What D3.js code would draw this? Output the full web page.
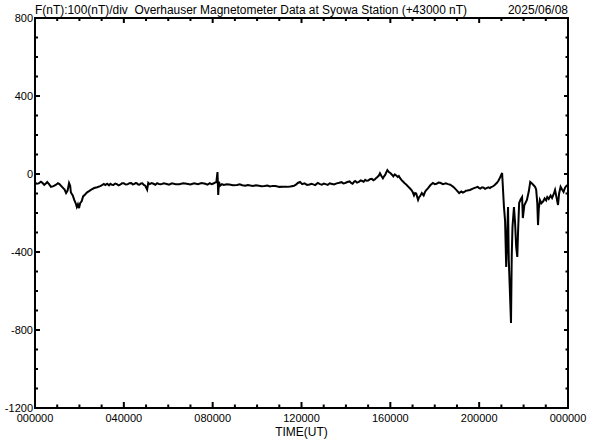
<!DOCTYPE html>
<html>
<head>
<meta charset="utf-8">
<script src="https://cdn.jsdelivr.net/npm/d3@7"></script>
<style>
  body { margin: 0; background: #fff; }
  svg { display: block; }
  text { font-family: "Liberation Sans", Arial, sans-serif; fill: #000; white-space: pre; }
</style>
</head>
<body>
<div id="chart"></div>
<script>
//Data: minute of day (UT) and F minus 43000 nT
var minutes = [0, 5, 10, 16, 20, 25, 30, 33, 38, 43, 50, 57, 62, 66, 73, 80, 84, 88, 92, 95,
  97, 102, 106, 110, 113, 116, 119, 122, 126, 130, 134, 140, 146, 152, 160, 168, 176, 180, 186, 190,
  195, 200, 204, 208, 212, 217, 221, 226, 230, 235, 240, 245, 250, 255, 260, 264, 268, 272, 275, 279,
  282, 286, 290, 294, 298, 303, 306, 310, 315, 320, 325, 330, 335, 340, 348, 356, 362, 370, 380, 390,
  400, 410, 420, 430, 440, 450, 460, 466, 472, 477, 482, 486, 490, 493, 495, 497, 500, 505, 510, 518,
  525, 535, 546, 553, 560, 568, 575, 582, 589, 597, 605, 612, 620, 628, 635, 642, 650, 660, 670, 681,
  690, 700, 705, 710, 716, 722, 728, 735, 742, 746, 750, 757, 764, 770, 775, 780, 785, 791, 796, 800,
  808, 815, 822, 828, 833, 838, 844, 850, 854, 858, 862, 865, 870, 875, 880, 884, 888, 892, 896, 900,
  905, 910, 914, 918, 922, 925, 929, 932, 936, 940, 943, 946, 949, 952, 956, 960, 965, 968, 972, 976,
  980, 983, 986, 989, 992, 995, 998, 1002, 1006, 1009, 1012, 1015, 1018, 1021, 1024, 1027, 1030, 1033, 1035, 1038,
  1040, 1045, 1050, 1053, 1056, 1062, 1068, 1075, 1080, 1085, 1090, 1095, 1102, 1110, 1116, 1122, 1126, 1130, 1135, 1140,
  1146, 1152, 1156, 1160, 1164, 1168, 1175, 1183, 1190, 1196, 1200, 1203, 1208, 1212, 1216, 1220, 1225, 1229, 1233, 1236,
  1242, 1248, 1252, 1256, 1262, 1267, 1270, 1273, 1276, 1278, 1280, 1283, 1286, 1288, 1290, 1294, 1297, 1300, 1303, 1305,
  1308, 1312, 1316, 1318, 1322, 1329, 1334, 1338, 1342, 1346, 1351, 1354, 1357, 1359, 1361, 1364, 1368, 1373, 1377, 1381,
  1384, 1388, 1393, 1397, 1402, 1405, 1408, 1413, 1416, 1420, 1424, 1428, 1432, 1436, 1440]
var fValues = [-45, -50, -48, -40, -45, -56, -48, -41, -52, -66, -62, -55, -47, -52, -66, -80, -98, -85, -46, -60,
  -95, -110, -133, -150, -169, -155, -175, -150, -140, -115, -108, -95, -88, -80, -72, -68, -62, -58, -51, -57,
  -50, -58, -50, -55, -56, -49, -52, -58, -55, -48, -48, -54, -53, -47, -46, -53, -52, -46, -47, -54,
  -55, -49, -48, -56, -60, -80, -45, -52, -47, -50, -55, -47, -52, -53, -48, -51, -55, -48, -53, -52,
  -47, -50, -54, -48, -52, -46, -50, -55, -47, -52, -49, -44, -42, 10, -108, -40, -60, -52, -56, -53,
  -54, -58, -56, -53, -58, -60, -56, -59, -61, -58, -60, -63, -62, -59, -64, -61, -62, -66, -65, -66,
  -64, -60, -55, -46, -41, -52, -48, -56, -54, -50, -52, -57, -46, -52, -55, -49, -52, -56, -48, -50,
  -54, -48, -45, -42, -48, -46, -41, -38, -46, -50, -40, -36, -44, -40, -33, -36, -40, -30, -35, -34,
  -27, -25, -32, -28, -20, -15, -8, 4, -10, -22, -12, -5, 8, 20, 10, 5, -5, -12, -2, -8,
  -15, -10, -20, -28, -35, -40, -46, -52, -60, -66, -72, -78, -85, -95, -110, -98, -100, -120, -133, -118,
  -115, -98, -110, -95, -85, -72, -58, -46, -52, -50, -44, -45, -52, -48, -52, -55, -60, -66, -75, -85,
  -98, -90, -95, -92, -86, -85, -82, -75, -70, -66, -72, -75, -68, -70, -76, -72, -68, -72, -66, -65,
  -56, -45, -35, -20, 5, -169, -240, -477, -300, -169, -441, -600, -764, -420, -272, -169, -250, -374, -425, -300,
  -149, -130, -118, -226, -160, -133, -90, -41, -48, -55, -66, -80, -149, -262, -180, -133, -150, -140, -125, -135,
  -118, -128, -110, -123, -100, -82, -110, -159, -100, -66, -80, -92, -70, -60, -56]

var yTicks = [800, 400, 0, -400, -800, -1200]
var xTicks = [0, 240, 480, 720, 960, 1200, 1440]
var xTickLabels = ["000000", "040000", "080000", "120000", "160000", "200000", "000000"]

var titleText = "F(nT):100(nT)/div  Overhauser Magnetometer Data at Syowa Station (+43000 nT)"
var dateText = "2025/06/08"
var xTitle = "TIME(UT)"

var data = minutes.map(function(m, i) { return {t: m, f: fValues[i]}; })

//Drawing area
var width = 592, height = 440,
    plotLeft = 35, plotRight = 568, plotTop = 18, plotBottom = 408;

var svg = d3.select('#chart').append('svg')
    .attr('width', width)
    .attr('height', height)

//Scales
var xScale = d3.scaleLinear()
    .domain([0, 1440])
    .range([plotLeft, plotRight]);
var yScale = d3.scaleLinear()
    .domain([-1200, 800])
    .range([plotBottom, plotTop]);

//Minor ticks every hour / every 100 nT, major at labels
var xMinor = d3.range(60, 1440, 60)
var yMinor = d3.range(-1100, 800, 100)

function isMajorX(m) { return m % 240 === 0; }
function isMajorY(v) { return v % 400 === 0; }

//bottom and top ticks, pointing into the plot
svg.append('g').selectAll('line').data(xMinor)
  .enter().append('line')
    .attr('x1', function(d) { return xScale(d); })
    .attr('x2', function(d) { return xScale(d); })
    .attr('y1', plotBottom)
    .attr('y2', function(d) { return plotBottom - (isMajorX(d) ? 6 : 3.5); })
    .style('stroke', '#000').style('stroke-width', 2)
svg.append('g').selectAll('line').data(xMinor)
  .enter().append('line')
    .attr('x1', function(d) { return xScale(d); })
    .attr('x2', function(d) { return xScale(d); })
    .attr('y1', plotTop)
    .attr('y2', function(d) { return plotTop + (isMajorX(d) ? 5 : 3); })
    .style('stroke', '#000').style('stroke-width', 2)

//left and right ticks
svg.append('g').selectAll('line').data(yMinor)
  .enter().append('line')
    .attr('x1', plotLeft)
    .attr('x2', function(d) { return plotLeft + (isMajorY(d) ? 5 : 3); })
    .attr('y1', function(d) { return yScale(d); })
    .attr('y2', function(d) { return yScale(d); })
    .style('stroke', '#000').style('stroke-width', 2)
svg.append('g').selectAll('line').data(yMinor)
  .enter().append('line')
    .attr('x1', plotRight)
    .attr('x2', function(d) { return plotRight - (isMajorY(d) ? 4 : 2.5); })
    .attr('y1', function(d) { return yScale(d); })
    .attr('y2', function(d) { return yScale(d); })
    .style('stroke', '#000').style('stroke-width', 2)

//the data line
var line = d3.line()
    .x(function(d) { return xScale(d.t); })
    .y(function(d) { return yScale(d.f); })

svg.append('path')
    .datum(data)
    .attr('d', line)
    .style('fill', 'none')
    .style('stroke', '#000')
    .style('stroke-width', 2)
    .style('stroke-linejoin', 'miter')

//frame
svg.append('rect')
    .attr('x', plotLeft)
    .attr('y', plotTop)
    .attr('width', plotRight - plotLeft)
    .attr('height', plotBottom - plotTop)
    .style('fill', 'none')
    .style('stroke', '#000')
    .style('stroke-width', 2)

//labels
svg.append('g').selectAll('text').data(yTicks)
  .enter().append('text')
    .attr('x', plotLeft - 2)
    .attr('y', function(d) { return yScale(d) + 4; })
    .attr('text-anchor', 'end')
    .style('font-size', '11px')
    .text(function(d) { return d; })

svg.append('g').selectAll('text').data(xTicks)
  .enter().append('text')
    .attr('x', function(d) { return xScale(d); })
    .attr('y', 422)
    .attr('text-anchor', 'middle')
    .style('font-size', '11px')
    .text(function(d, i) { return xTickLabels[i]; })

svg.append('text')
    .attr('x', (plotLeft + plotRight) / 2)
    .attr('y', 436)
    .attr('text-anchor', 'middle')
    .style('font-size', '12px')
    .text(xTitle)

svg.append('text')
    .attr('x', plotLeft)
    .attr('y', 14)
    .attr('textLength', 432)
    .attr('lengthAdjust', 'spacingAndGlyphs')
    .style('font-size', '12px')
    .text(titleText)

svg.append('text')
    .attr('x', plotRight)
    .attr('y', 14)
    .attr('text-anchor', 'end')
    .style('font-size', '12px')
    .text(dateText)
</script>
</body>
</html>
